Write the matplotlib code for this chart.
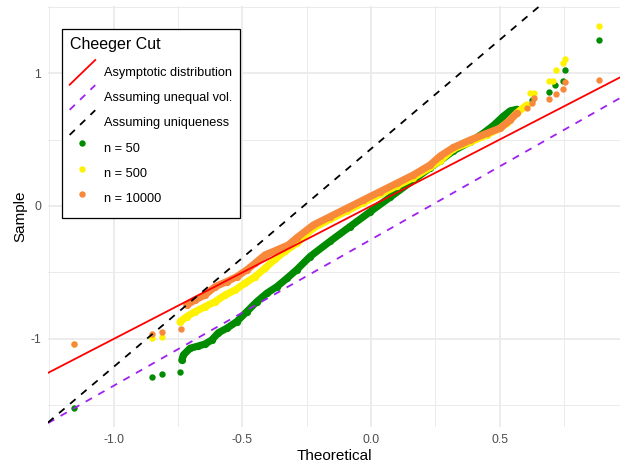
import matplotlib
matplotlib.use("Agg")
import matplotlib.pyplot as plt
from matplotlib.lines import Line2D
from matplotlib.legend_handler import HandlerLine2D

plt.rcParams['font.family'] = ['Liberation Sans', 'DejaVu Sans']

# --- data (theoretical vs sample quantiles) ---
# n = 50 (green)
g_body_x = [-0.735, -0.729, -0.703, -0.671, -0.645, -0.619, -0.593, -0.561, -0.522, -0.483,
            -0.444, -0.405, -0.366, -0.327, -0.289, -0.237, -0.159, -0.082, -0.004, 0.074,
            0.152, 0.229, 0.268, 0.320, 0.385, 0.436, 0.475, 0.514, 0.540, 0.566]
g_body_y = [-1.16, -1.12, -1.07, -1.053, -1.038, -1.008, -0.953, -0.92, -0.87, -0.795,
            -0.72, -0.656, -0.607, -0.544, -0.48, -0.38, -0.265, -0.155, -0.044, 0.066,
            0.177, 0.287, 0.34, 0.415, 0.483, 0.547, 0.605, 0.675, 0.715, 0.727]
g_tail_x = [-1.154, -0.852, -0.811, -0.742, 0.605, 0.624, 0.693, 0.715, 0.747, 0.754, 0.887]
g_tail_y = [-1.519, -1.286, -1.261, -1.248, 0.76, 0.80, 0.86, 0.91, 0.94, 1.02, 1.25]

# n = 500 (yellow)
y_body_x = [-0.742, -0.716, -0.684, -0.645, -0.606, -0.567, -0.528, -0.490, -0.451, -0.412,
            -0.373, -0.334, -0.289, -0.224, -0.159, -0.094, -0.030, 0.035, 0.100, 0.164,
            0.229, 0.268, 0.320, 0.385, 0.450, 0.501, 0.527, 0.566, 0.605]
y_body_y = [-0.87, -0.832, -0.795, -0.757, -0.72, -0.669, -0.632, -0.581, -0.532, -0.468,
            -0.40, -0.34, -0.28, -0.165, -0.10, -0.037, 0.025, 0.088, 0.151, 0.213,
            0.29, 0.34, 0.43, 0.48, 0.535, 0.585, 0.622, 0.70, 0.76]
y_tail_x = [-1.154, -0.852, -0.811, 0.618, 0.631, 0.693, 0.706, 0.719, 0.747, 0.754, 0.887]
y_tail_y = [-1.04, -0.995, -0.982, 0.847, 0.85, 0.94, 0.94, 1.023, 1.073, 1.103, 1.356]

# n = 10000 (orange)
o_body_x = [-0.716, -0.684, -0.645, -0.606, -0.561, -0.522, -0.483, -0.451, -0.412, -0.366,
            -0.321, -0.289, -0.224, -0.159, -0.094, -0.030, 0.035, 0.100, 0.164, 0.229,
            0.268, 0.320, 0.385, 0.450, 0.501, 0.540, 0.566]
o_body_y = [-0.744, -0.707, -0.669, -0.607, -0.569, -0.532, -0.481, -0.431, -0.368, -0.331,
            -0.293, -0.24, -0.143, -0.08, -0.017, 0.045, 0.108, 0.171, 0.233, 0.308,
            0.375, 0.44, 0.496, 0.547, 0.584, 0.647, 0.697]
o_tail_x = [-1.154, -0.852, -0.811, -0.738, 0.605, 0.624, 0.631, 0.693, 0.719, 0.747, 0.754, 0.887]
o_tail_y = [-1.04, -0.965, -0.947, -0.927, 0.735, 0.772, 0.81, 0.805, 0.842, 0.877, 0.935, 0.947]

# reference lines: (intercept, slope)
ref_lines = {
    'Asymptotic distribution': (0.0, 1.0),
    'Assuming unequal vol.': (-0.252, 1.10),
    'Assuming uniqueness': (0.43, 1.64),
}
line_styles = {
    'Asymptotic distribution': ('#FF0000', '-'),
    'Assuming unequal vol.': ('#A020F0', (0, (4, 4))),
    'Assuming uniqueness': ('#000000', (0, (4, 4))),
}

series = [
    ('n = 50', '#008B00', g_body_x, g_body_y, g_tail_x, g_tail_y),
    ('n = 500', '#FFF200', y_body_x, y_body_y, y_tail_x, y_tail_y),
    ('n = 10000', '#F8883A', o_body_x, o_body_y, o_tail_x, o_tail_y),
]


class HandlerDiag(HandlerLine2D):
    # ggplot style abline key: diagonal across the key box
    def create_artists(self, legend, orig_handle, xdescent, ydescent,
                       width, height, fontsize, trans):
        ln = Line2D([-xdescent, -xdescent + width], [-ydescent, -ydescent + height])
        self.update_prop(ln, orig_handle, legend)
        ln.set_transform(trans)
        return [ln]


fig = plt.figure(figsize=(6.2, 4.63), dpi=100)
ax = fig.add_axes([48 / 620, 1 - 427 / 463, 572 / 620, 421 / 463])

xlim = (-1.255, 0.967)
ylim = (-1.662, 1.504)

pt_size = 4.6
for lab, col, bx, by, tx, ty in series:
    ax.plot(bx, by, '-o', color=col, lw=5.2, ms=pt_size + 0.6, mew=0,
            solid_capstyle='round', solid_joinstyle='round', zorder=2)
    ax.plot(tx, ty, 'o', color=col, ms=pt_size, mew=0, zorder=2)

handles = []
for lab, (a, b) in ref_lines.items():
    col, ls = line_styles[lab]
    ax.axline((0, a), slope=b, color=col, ls=ls, lw=1.3, zorder=3)
    handles.append(Line2D([], [], color=col, ls=ls, lw=1.3, label=lab))
for lab, col, *_ in series:
    handles.append(Line2D([], [], color=col, marker='o', ls='', ms=pt_size, mew=0, label=lab))

ax.set_xlim(xlim)
ax.set_ylim(ylim)

ax.set_xticks([-1.0, -0.5, 0.0, 0.5])
ax.set_xticklabels(['-1.0', '-0.5', '0.0', '0.5'])
ax.set_xticks([-1.25, -0.75, -0.25, 0.25, 0.75], minor=True)
ax.set_yticks([-1, 0, 1])
ax.set_yticklabels(['-1', '0', '1'])
ax.set_yticks([-1.5, -0.5, 0.5, 1.5], minor=True)

ax.grid(which='major', color='#EBEBEB', lw=1.3)
ax.grid(which='minor', color='#EBEBEB', lw=0.7)
ax.set_axisbelow(True)
ax.tick_params(which='both', length=0, pad=5, labelsize=8.8, labelcolor='#4D4D4D')
for s in ax.spines.values():
    s.set_visible(False)

ax.set_xlabel('Theoretical', fontsize=11, labelpad=2)
ax.set_ylabel('Sample', fontsize=11, labelpad=2)

hmap = {h: HandlerDiag() for h in handles[:3]}
leg = ax.legend(handles=handles, handler_map=hmap, title='Cheeger Cut',
                loc='upper left', bbox_to_anchor=(62 / 620, 1 - 29 / 463),
                bbox_transform=fig.transFigure, borderaxespad=0,
                fontsize=9.2, title_fontsize=11.5, alignment='left',
                handlelength=2.0, handleheight=2.6, labelspacing=0.03,
                handletextpad=0.72, borderpad=0.6, fancybox=False,
                framealpha=1, edgecolor='black')
leg.get_frame().set_linewidth(0.9)
leg._legend_box.sep = 6

fig.savefig('out.png', dpi=100)
